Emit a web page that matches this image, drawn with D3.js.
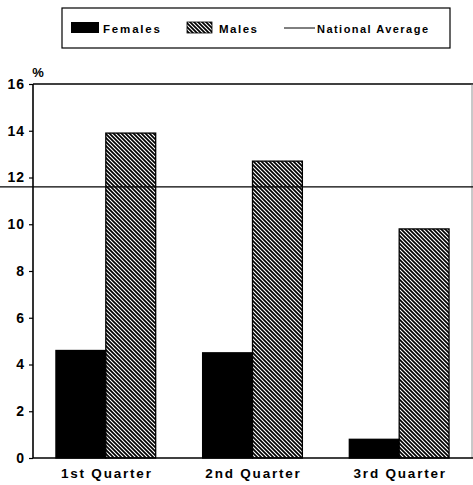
<!DOCTYPE html>
<html><head><meta charset="utf-8">
<script src="https://cdn.jsdelivr.net/npm/d3@7"></script>
<style>
body{margin:0;background:#fff;}
text{font-family:"Liberation Sans",Arial,sans-serif;font-weight:bold;fill:#000;}
</style></head>
<body>
<svg id="c" width="473" height="485"></svg>
<script>
const categories = ["1st Quarter","2nd Quarter","3rd Quarter"];
const females = [4.6, 4.5, 0.8];
const males = [13.9, 12.7, 9.8];
const nationalAverage = 11.6;
const yTicks = [0,2,4,6,8,10,12,14,16];
const seriesNames = ["Females","Males"];
const avgName = "National Average";

const svg = d3.select("#c");
const defs = svg.append("defs");
const pat = defs.append("pattern").attr("id","hatch").attr("patternUnits","userSpaceOnUse")
  .attr("width",4).attr("height",4);
pat.append("rect").attr("width",4).attr("height",4).attr("fill","#fff");
pat.append("path").attr("d","M-1,-1 L5,5 M-1,3 L1,5 M3,-1 L5,1").attr("stroke","#000").attr("stroke-width",1.7);

const x0 = 33, x1 = 473, yTop = 84, yBot = 458;
const y = d3.scaleLinear().domain([0,16]).range([yBot,yTop]);
const x = d3.scaleBand().domain(categories).range([31,474]).paddingInner(0.32).paddingOuter(0.17);
const xs = d3.scaleBand().domain(seriesNames).range([0,x.bandwidth()]);

// frame
svg.append("line").attr("x1",x0).attr("x2",x1).attr("y1",yTop).attr("y2",yTop).attr("stroke","#000").attr("stroke-width",1.3);
svg.append("line").attr("x1",472).attr("x2",472).attr("y1",yTop).attr("y2",yBot).attr("stroke","#777").attr("stroke-width",0.8);

// bars
const data = categories.map((c,i)=>({c, v:[females[i], males[i]]}));
const g = svg.append("g");
data.forEach(d=>{
  seriesNames.forEach((s,j)=>{
    g.append("rect").attr("x",x(d.c)+xs(s)).attr("width",xs.bandwidth())
      .attr("y",y(d.v[j])).attr("height",y(0)-y(d.v[j]))
      .attr("fill", j===0 ? "#000" : "url(#hatch)")
      .attr("stroke","#000").attr("stroke-width",1.3);
  });
});

// national average
svg.append("line").attr("x1",0).attr("x2",473).attr("y1",y(nationalAverage)).attr("y2",y(nationalAverage))
  .attr("stroke","#000").attr("stroke-width",1.3);

// y axis
const ya = svg.append("g").attr("transform",`translate(${x0},0)`)
  .call(d3.axisLeft(y).tickValues(yTicks).tickSize(4).tickPadding(4));
ya.select(".domain").attr("stroke","#000").attr("stroke-width",1.6).attr("d",`M0,${yTop}V${yBot}`);
ya.selectAll(".tick line").attr("stroke","#000").attr("stroke-width",1.2);
ya.selectAll("text").style("font-size","14px").style("letter-spacing","1px")
  .style("font-family","'Liberation Sans',Arial,sans-serif").style("font-weight","bold").attr("fill","#000");

// x axis
const xa = svg.append("g").attr("transform",`translate(0,${yBot})`)
  .call(d3.axisBottom(x).tickSize(0).tickPadding(10));
xa.select(".domain").attr("stroke","#000").attr("stroke-width",1.4).attr("d",`M${x0},0H473`);
xa.selectAll("text").style("font-size","13.5px").style("letter-spacing","1.8px").attr("dx","1")
  .style("font-family","'Liberation Sans',Arial,sans-serif").style("font-weight","bold").attr("fill","#000");

svg.append("text").attr("x",38).attr("y",77).attr("text-anchor","middle").style("font-size","13px").text("%");

// legend
const lg = svg.append("g");
lg.append("rect").attr("x",62).attr("y",8).attr("width",388).attr("height",40).attr("fill","#fff").attr("stroke","#000").attr("stroke-width",1.2);
lg.append("rect").attr("x",71).attr("y",22).attr("width",28).attr("height",11).attr("fill","#000");
lg.append("text").attr("x",103).attr("y",33).style("font-size","11.5px").attr("textLength",57).attr("lengthAdjust","spacing").text(seriesNames[0]);
lg.append("rect").attr("x",187).attr("y",22).attr("width",25).attr("height",11).attr("fill","url(#hatch)").attr("stroke","#000").attr("stroke-width",0.8);
lg.append("text").attr("x",219).attr("y",33).style("font-size","11.5px").attr("textLength",38).attr("lengthAdjust","spacing").text(seriesNames[1]);
lg.append("line").attr("x1",284).attr("x2",315).attr("y1",28).attr("y2",28).attr("stroke","#000").attr("stroke-width",1);
lg.append("text").attr("x",317).attr("y",33).style("font-size","11px").attr("textLength",111).attr("lengthAdjust","spacing").text(avgName);
</script>
</body></html>
